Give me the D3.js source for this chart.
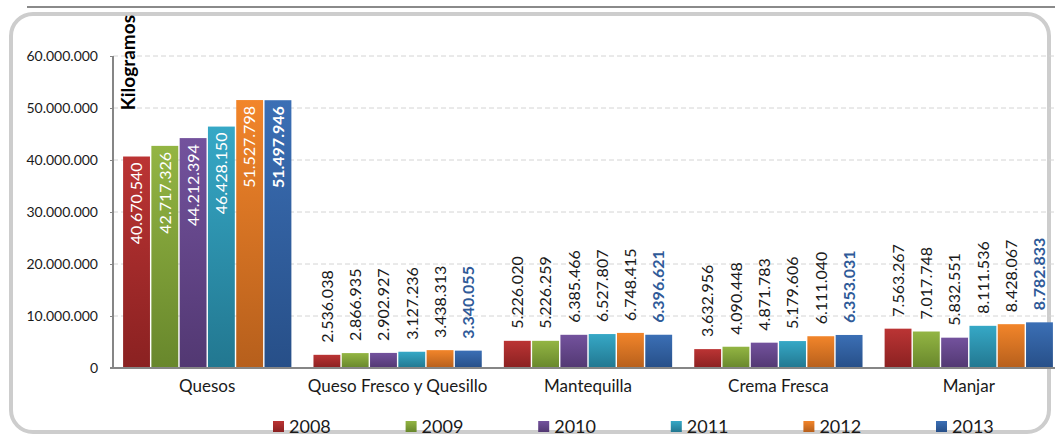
<!DOCTYPE html>
<html>
  <head>
    <meta charset="utf-8">
    <title>Kilogramos</title>
    <style media="screen">
    body{margin: 0; background: #fff}
    svg text {font-family: Lato, "Open Sans", sans-serif}
    </style>
  </head>
  <body>
    <script src="https://d3js.org/d3.v7.min.js"></script>
    <script type="text/javascript">
      var w = 1055, h = 436

      var categories = ['Quesos', 'Queso Fresco y Quesillo', 'Mantequilla', 'Crema Fresca', 'Manjar']
      var years = ['2008', '2009', '2010', '2011', '2012', '2013']
      var yTicks = [0, 10000000, 20000000, 30000000, 40000000, 50000000, 60000000]

      // one array per year, in category order
      var v2008 = [40670540, 2536038, 5226020, 3632956, 7563267]
      var v2009 = [42717326, 2866935, 5226259, 4090448, 7017748]
      var v2010 = [44212394, 2902927, 6385466, 4871783, 5832551]
      var v2011 = [46428150, 3127236, 6527807, 5179606, 8111536]
      var v2012 = [51527798, 3438313, 6748415, 6111040, 8428067]
      var v2013 = [51497946, 3340055, 6396621, 6353031, 8782833]
      var series = [v2008, v2009, v2010, v2011, v2012, v2013]

      // [top, bottom] of each bar gradient
      var colors = [
        ['#bb3434', '#8a2121'],
        ['#93b543', '#68872c'],
        ['#73529d', '#523872'],
        ['#36a8c6', '#227790'],
        ['#f2852a', '#b65f1c'],
        ['#3b6fb5', '#274f88']
      ]

      var fmt = function(v){
        return d3.format(',')(v).replace(/,/g, '.')
      }

      var svg = d3.select('body').append('svg')
        .attr('width', w)
        .attr('height', h)

      var defs = svg.append('defs')
      colors.forEach(function(c, i){
        var g = defs.append('linearGradient')
          .attr('id', 'g' + i)
          .attr('x1', 0).attr('y1', 0).attr('x2', 0).attr('y2', 1)
        g.append('stop').attr('offset', '0%').attr('stop-color', c[0])
        g.append('stop').attr('offset', '100%').attr('stop-color', c[1])
      })

      // frame
      svg.append('rect')
        .attr('x', 11).attr('y', 14)
        .attr('width', 1038).attr('height', 418)
        .attr('rx', 22)
        .attr('fill', 'none')
        .attr('stroke', '#cdcdcd')
        .attr('stroke-width', 4)
      svg.append('line')
        .attr('x1', 27).attr('x2', w)
        .attr('y1', 7).attr('y2', 7)
        .attr('stroke', '#8a8a8a')
        .attr('stroke-width', 2)

      var left = 113, right = 1063
      var y = d3.scaleLinear().domain([0, 60000000]).range([368, 56])

      var x0 = d3.scaleBand()
        .domain(categories)
        .range([left, right])
        .paddingInner(0.116)
        .paddingOuter(0.053)

      var x1 = d3.scaleBand()
        .domain(years)
        .range([0, x0.bandwidth()])
        .paddingInner(0.05)

      // grid
      svg.append('g').selectAll('line')
        .data(yTicks.slice(1))
        .enter().append('line')
          .attr('x1', left).attr('x2', w)
          .attr('y1', function(d){ return y(d) })
          .attr('y2', function(d){ return y(d) })
          .attr('stroke', '#d4d4d4')
          .attr('stroke-dasharray', '5,3')

      // y axis
      var yAxis = svg.append('g')
        .attr('transform', 'translate(' + left + ',0)')
        .call(d3.axisLeft(y).tickValues(yTicks).tickFormat(fmt).tickSize(3).tickPadding(12))
      yAxis.select('.domain').remove()
      yAxis.selectAll('.tick line').attr('stroke', '#868686')
      yAxis.selectAll('text')
        .attr('font-size', 14)
        .attr('fill', '#1a1a1a')

      svg.append('text')
        .attr('transform', 'translate(128,15) rotate(-90)')
        .attr('text-anchor', 'end')
        .attr('dy', '0.35em')
        .attr('font-size', 19)
        .attr('font-weight', 'bold')
        .attr('fill', '#000')
        .text('Kilogramos')

      // bars
      var groups = svg.append('g').selectAll('g')
        .data(categories)
        .enter().append('g')
          .attr('transform', function(d){ return 'translate(' + x0(d) + ',0)' })

      groups.each(function(cat, ci){
        var g = d3.select(this)
        var rows = years.map(function(yr, i){ return {year: yr, i: i, v: series[i][ci]} })

        g.selectAll('rect')
          .data(rows)
          .enter().append('rect')
            .attr('x', function(d){ return x1(d.year) })
            .attr('y', function(d){ return y(d.v) })
            .attr('width', x1.bandwidth())
            .attr('height', function(d){ return y(0) - y(d.v) })
            .attr('fill', function(d){ return 'url(#g' + d.i + ')' })

        var inside = ci === 0
        g.selectAll('text')
          .data(rows)
          .enter().append('text')
            .attr('transform', function(d){
              var cx = x1(d.year) + x1.bandwidth() / 2
              var ty = inside ? y(d.v) + 6 : y(d.v) - 12
              return 'translate(' + cx + ',' + ty + ') rotate(-90)'
            })
            .attr('dy', '0.36em')
            .attr('text-anchor', inside ? 'end' : 'start')
            .attr('font-size', 16)
            .attr('font-weight', function(d){ return d.i === 5 ? 'bold' : 'normal' })
            .attr('fill', function(d){
              if(inside) return '#fff'
              return d.i === 5 ? '#2f5a98' : '#1a1a1a'
            })
            .text(function(d){ return fmt(d.v) })
      })

      // x axis
      svg.append('line')
        .attr('x1', left - 3).attr('x2', w)
        .attr('y1', y(0)).attr('y2', y(0))
        .attr('stroke', '#868686')
        .attr('stroke-width', 2)
      svg.append('line')
        .attr('x1', left).attr('x2', left)
        .attr('y1', y(60000000)).attr('y2', y(0))
        .attr('stroke', '#868686')
        .attr('stroke-width', 2)

      svg.append('g').selectAll('text')
        .data(categories)
        .enter().append('text')
          .attr('x', function(d){ return x0(d) + x0.bandwidth() / 2 })
          .attr('y', 386)
          .attr('dy', '0.35em')
          .attr('text-anchor', 'middle')
          .attr('font-size', 17)
          .attr('fill', '#1a1a1a')
          .text(function(d){ return d })

      // legend
      var legend = svg.append('g').selectAll('g')
        .data(years)
        .enter().append('g')
          .attr('transform', function(d, i){ return 'translate(' + (273 + i * 132.6) + ',421)' })
      legend.append('rect')
        .attr('width', 11).attr('height', 11)
        .attr('fill', function(d, i){ return 'url(#g' + i + ')' })
      legend.append('text')
        .attr('x', 16).attr('y', 6)
        .attr('dy', '0.36em')
        .attr('font-size', 18)
        .attr('fill', '#1a1a1a')
        .text(function(d){ return d })
    </script>
  </body>
</html>
